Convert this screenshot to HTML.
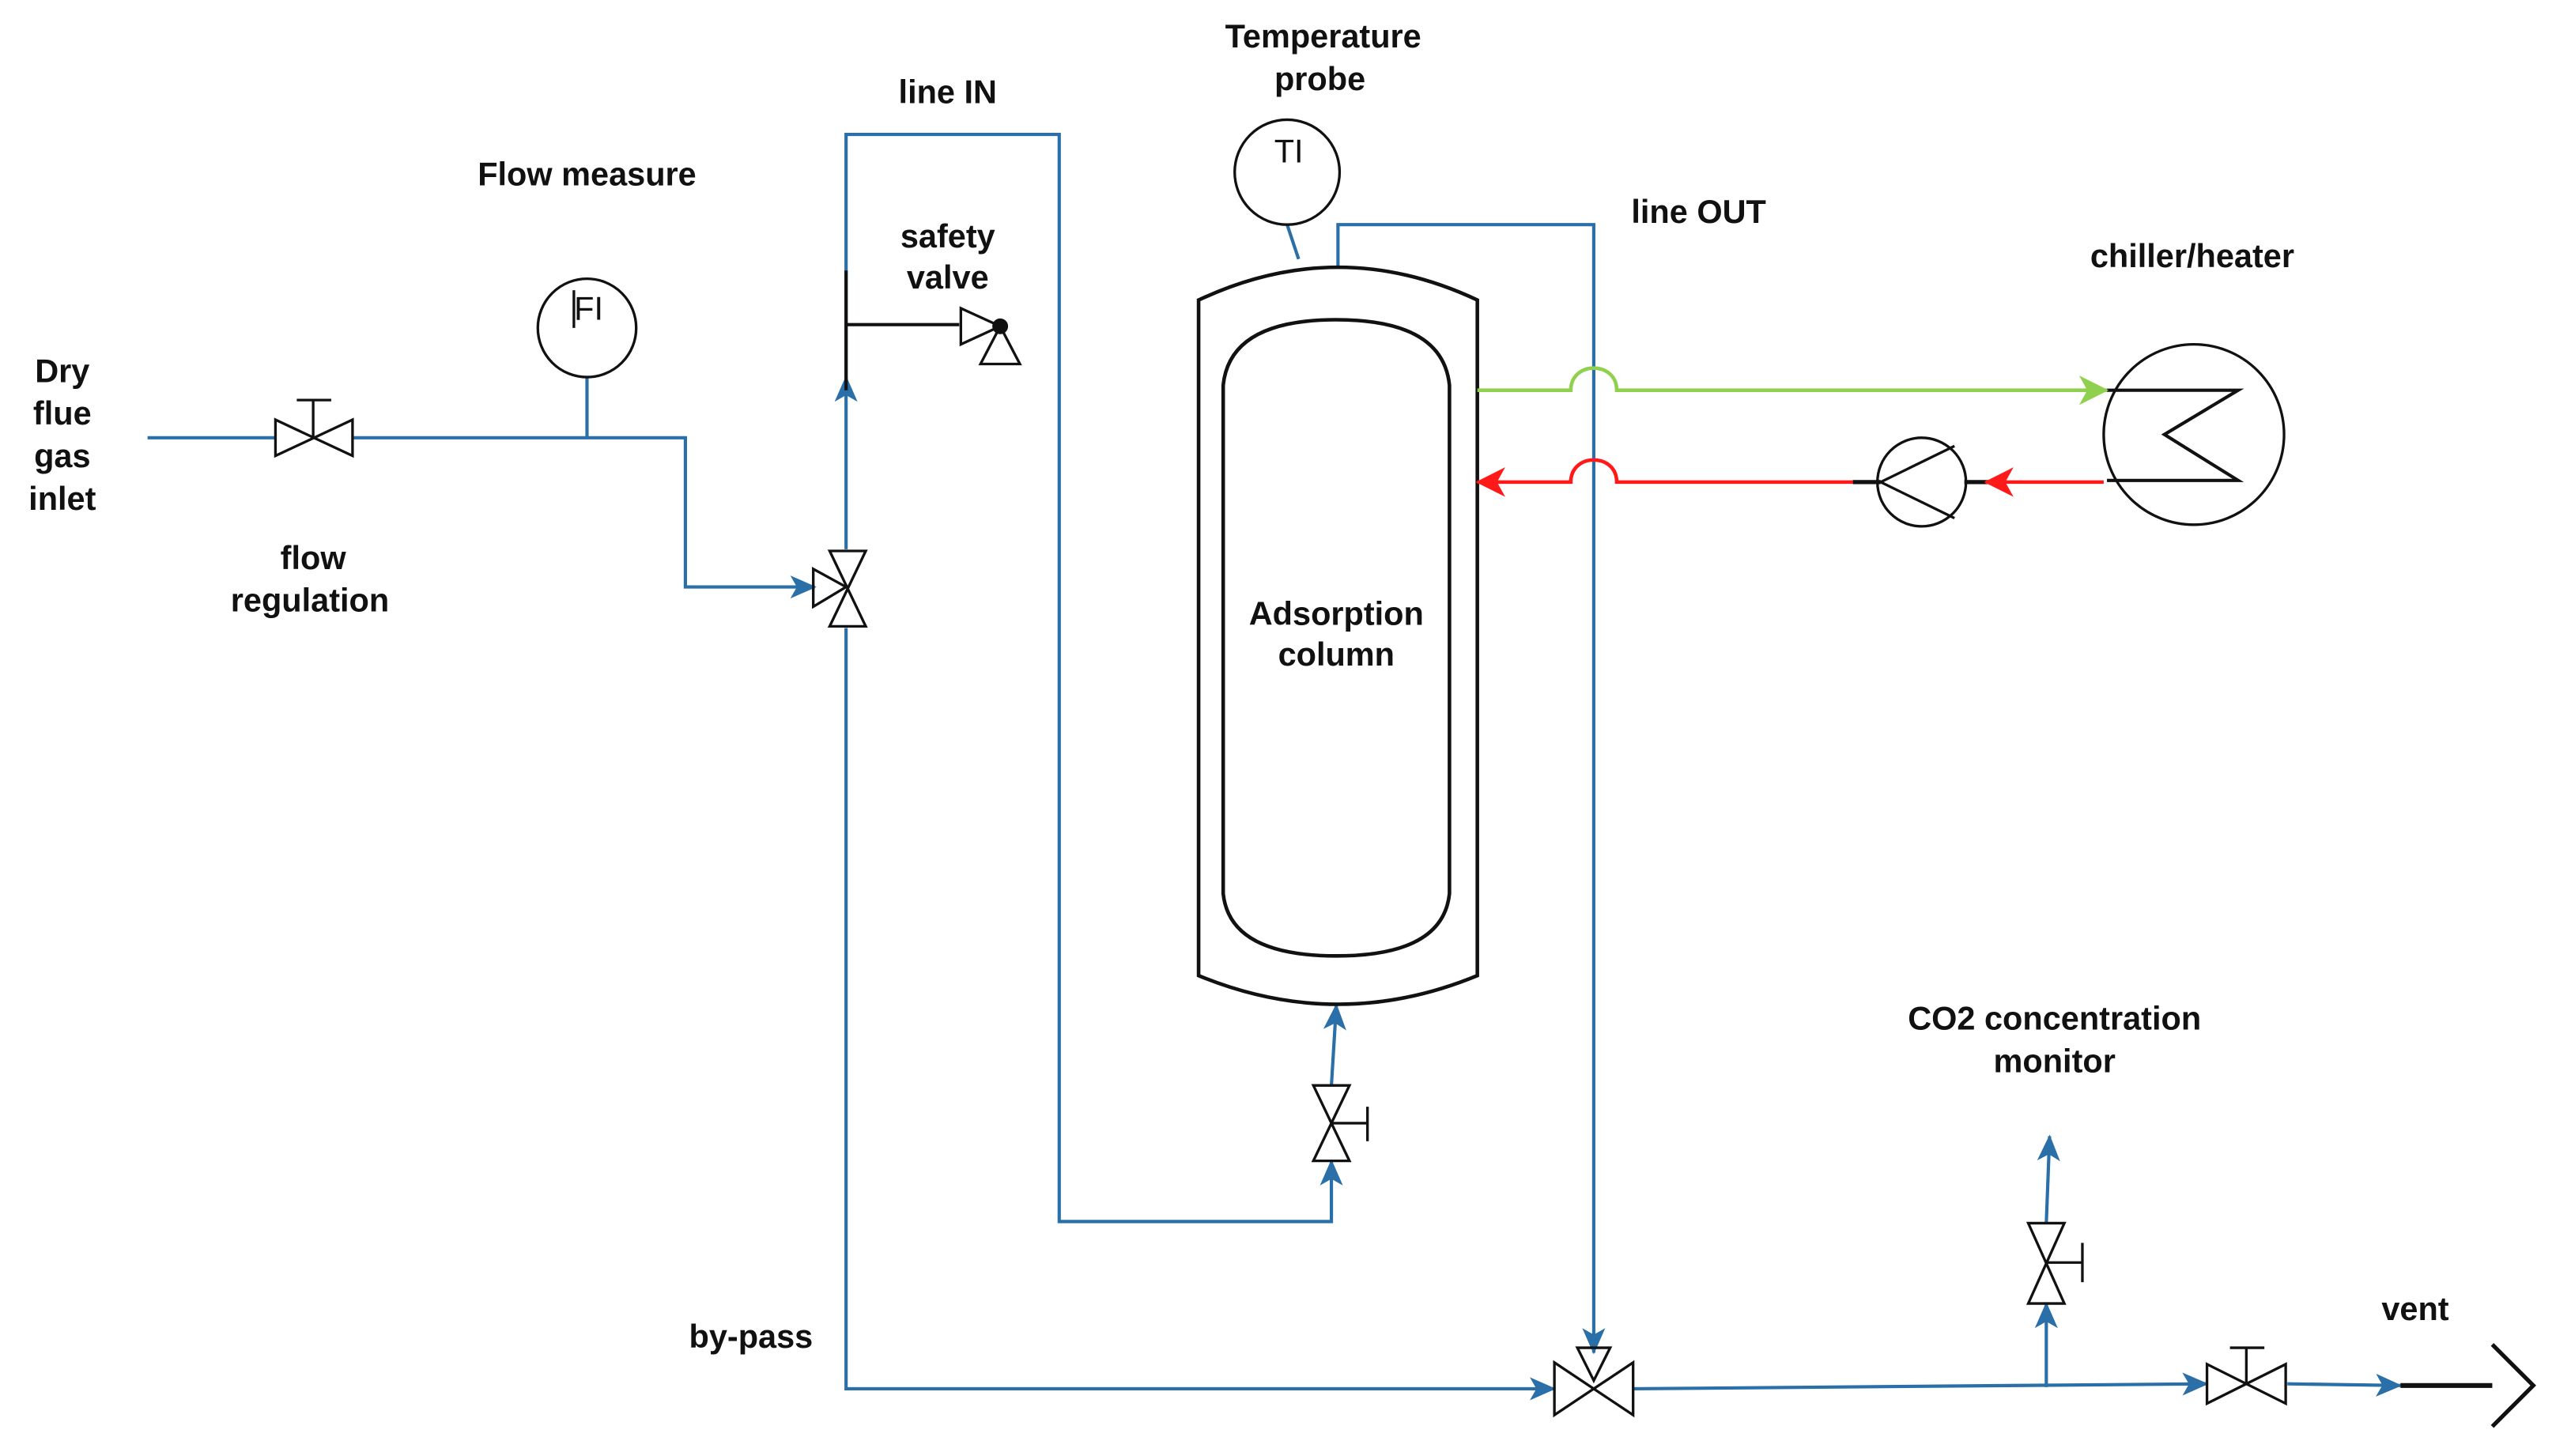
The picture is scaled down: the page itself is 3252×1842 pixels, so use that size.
<!DOCTYPE html>
<html><head><meta charset="utf-8"><style>
html,body{margin:0;padding:0;background:#fff;}
svg{display:block;}
text{font-family:"Liberation Sans",Arial,sans-serif;font-weight:bold;font-size:20px;fill:#111;text-anchor:middle;}
</style></head><body>
<svg width="3252" height="1842" viewBox="0 0 1568 888" preserveAspectRatio="none" xmlns="http://www.w3.org/2000/svg">
<defs>
<marker id="ab" markerWidth="16" markerHeight="16" refX="15" refY="8" orient="auto" markerUnits="userSpaceOnUse"><path d="M0,1 L16,8 L0,15 L4,8 Z" fill="#2a6fa8"/></marker>
<marker id="ag" markerWidth="18" markerHeight="18" refX="17" refY="9" orient="auto" markerUnits="userSpaceOnUse"><path d="M0,0 L18,9 L0,18 L5,9 Z" fill="#8fd14f"/></marker>
<marker id="ar" markerWidth="18" markerHeight="18" refX="17" refY="9" orient="auto" markerUnits="userSpaceOnUse"><path d="M0,0 L18,9 L0,18 L5,9 Z" fill="#ff1a1a"/></marker>
</defs>
<g fill="none" stroke="#2a6fa8" stroke-width="2">
<path d="M90,267 H168"/>
<path d="M215,267 H418 V358 H497" marker-end="url(#ab)"/>
<path d="M358,230 V267"/>
<path d="M516,335 V230" marker-end="url(#ab)"/>
<path d="M516,238 V82 H646 V745 H812 V708" marker-end="url(#ab)"/>
<path d="M812,662 L815,613" marker-end="url(#ab)"/>
<path d="M785,137 L792,158"/>
<path d="M816,163 V137 H972 V825" marker-end="url(#ab)"/>
<path d="M516,383 V847 H948" marker-end="url(#ab)"/>
<path d="M996,847 L1346,844" marker-end="url(#ab)"/>
<path d="M1395,844 L1464,845" marker-end="url(#ab)"/>
<path d="M1248,846 V795" marker-end="url(#ab)"/>
<path d="M1248,746 L1250,693" marker-end="url(#ab)"/>
</g>
<g fill="none" stroke="#111" stroke-width="1.6">
<path d="M168,256 L215,278 L215,256 L168,278 Z"/>
<path d="M191,267 V244 M181,244 H202"/>
<circle cx="358" cy="200" r="30"/>
<path d="M350,177 V200"/>
<path d="M506,336 H528 L506,382 H528 Z"/>
<path d="M496,347 L516,358 L496,370 Z"/>
<path d="M516,165 V238 M516,198 H585" stroke-width="2"/>
<path d="M586,188 L610,199 L586,210 Z"/>
<path d="M610,199 L598,222 H622 Z"/>
<circle cx="610" cy="199" r="4" fill="#111"/>
<circle cx="785" cy="105" r="32"/>
<path d="M801,662 H823 L801,708 H823 Z"/>
<path d="M812,685 H834 M834,675 V696"/>
<path d="M731,183 Q816,143 901,183 V595 Q816,630 731,595 Z" stroke-width="2.2"/>
<path d="M746,235 Q750,195 815,195 Q880,195 884,235 V545 Q880,583 815,583 Q750,583 746,545 Z" stroke-width="2.2"/>
<path d="M948,831 V863 L996,831 V863 Z"/>
<path d="M962,822 H982 L972,842 Z"/>
<path d="M1346,832 V856 L1394,832 V856 Z"/>
<path d="M1370,844 V822 M1360,822 H1381"/>
<path d="M1464,845 H1520" stroke-width="3"/>
<path d="M1520,820 L1545,845 L1520,870" stroke-width="2.5"/>
<path d="M1237,746 H1259 L1237,795 H1259 Z"/>
<path d="M1248,770 H1270 M1270,758 V782"/>
<circle cx="1172" cy="294" r="27"/>
<path d="M1192,272 L1147,294 L1192,316" />
<path d="M1130,294 H1147 M1198,294 H1213" stroke-width="2.5"/>
<circle cx="1338" cy="265" r="55"/>
<path d="M1285,238 H1365 L1320,265 L1365,293 H1285" stroke-width="2"/>
</g>
<g fill="none" stroke-width="2.2">
<path d="M901,238 H958 C958,220 986,220 986,238 H1285" stroke="#8fd14f" marker-end="url(#ag)"/>
<path d="M1283,294 H1211" stroke="#ff1a1a" marker-end="url(#ar)"/>
<path d="M1130,294 H986 C986,276 958,276 958,294 H901" stroke="#ff1a1a" marker-end="url(#ar)"/>
</g>
<text x="38" y="233">Dry</text>
<text x="38" y="259">flue</text>
<text x="38" y="285">gas</text>
<text x="38" y="311">inlet</text>
<text x="358" y="113">Flow measure</text>
<text x="191" y="347">flow</text>
<text x="189" y="373">regulation</text>
<text x="359" y="195" style="font-weight:normal">FI</text>
<text x="578" y="63">line IN</text>
<text x="578" y="151">safety</text>
<text x="578" y="176">valve</text>
<text x="807" y="29">Temperature</text>
<text x="805" y="55">probe</text>
<text x="786" y="99" style="font-weight:normal">TI</text>
<text x="1036" y="136">line OUT</text>
<text x="1337" y="163">chiller/heater</text>
<text x="815" y="381">Adsorption</text>
<text x="815" y="406">column</text>
<text x="1253" y="628">CO2 concentration</text>
<text x="1253" y="654">monitor</text>
<text x="458" y="822">by-pass</text>
<text x="1473" y="805">vent</text>
</svg>
</body></html>
